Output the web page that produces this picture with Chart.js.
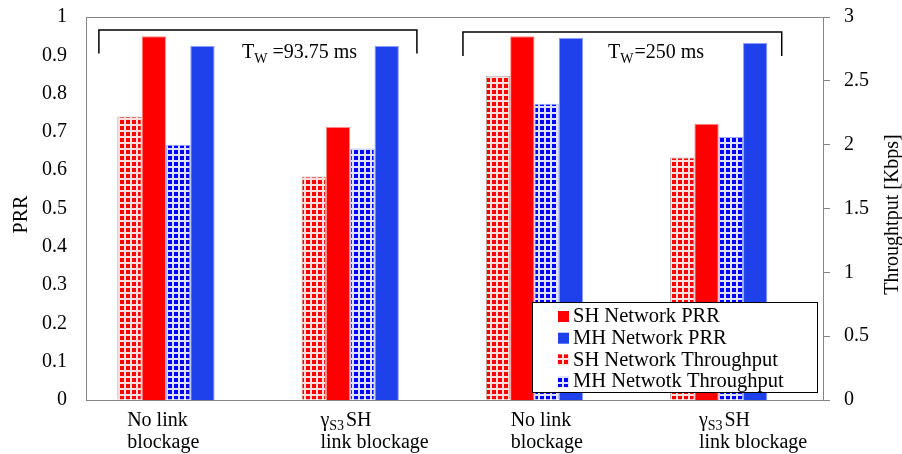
<!DOCTYPE html>
<html>
<head>
<meta charset="utf-8">
<script src="https://cdn.jsdelivr.net/npm/chart.js@4.4.1/dist/chart.umd.min.js"></script>
<style>
  html, body { margin: 0; padding: 0; background: #fff; }
  #wrap { width: 902px; height: 454px; position: relative; }
</style>
</head>
<body>
<div id="wrap"><canvas id="prrChart" width="902" height="454"></canvas></div>
<script>
// categories (first line / second line), "γ_S3" gets a subscript when drawn
const categories = [
  ['No link', 'blockage'],
  ['γS3 SH', 'link blockage'],
  ['No link', 'blockage'],
  ['γS3 SH', 'link blockage']
];

// PRR (left axis, 0..1)
const shPRR = [0.950, 0.713, 0.950, 0.721];
const mhPRR = [0.924, 0.924, 0.945, 0.932];
// Throughput in Kbps (right axis, 0..3)
const shThroughput = [2.22, 1.75, 2.54, 1.90];
const mhThroughput = [2.00, 1.97, 2.32, 2.06];

const prrTicks = [0, 0.1, 0.2, 0.3, 0.4, 0.5, 0.6, 0.7, 0.8, 0.9, 1];
const thrTicks = [0, 0.5, 1, 1.5, 2, 2.5, 3];

// T_W window brackets (in category units on x)
const windowLabels = ['=93.75 ms', '=250 ms'];
const windowFrom = [-0.43, 1.546];
const windowTo = [1.296, 3.276];

const FONT = "'Liberation Serif', 'Times New Roman', serif";
const RED = '#ff0000';
const BLUE = '#1f41eb';

function makePattern(bg, fg) {
  const c = document.createElement('canvas');
  c.width = 6; c.height = 6;
  const g = c.getContext('2d');
  g.fillStyle = bg;
  g.fillRect(0, 0, 6, 6);
  g.fillStyle = fg;
  g.fillRect(0, 0, 4, 4);
  return g.createPattern(c, 'repeat');
}
const redGrid = makePattern('#ffdede', '#ff0000');
const blueGrid = makePattern('#dfe2ff', '#0000ff');

// brackets + T_W labels, x-labels, axis titles, legend
const decorations = {
  id: 'decorations',
  afterDraw(chart) {
    const ctx = chart.ctx;
    const x = chart.scales.x;
    const y = chart.scales.y;
    const area = chart.chartArea;
    ctx.save();

    // plot frame
    ctx.strokeStyle = '#868686';
    ctx.lineWidth = 1;
    ctx.strokeRect(Math.round(area.left) + 0.5, Math.round(area.top) + 0.5,
      Math.round(area.right - area.left), Math.round(area.bottom - area.top));

    // brackets
    ctx.strokeStyle = '#000';
    ctx.lineWidth = 1.5;
    const tops = [0.966, 0.961];
    const bottoms = [0.905, 0.898];
    const textPos = [0.347, 2.333];
    windowLabels.forEach((lab, i) => {
      const x0 = x.getPixelForValue(windowFrom[i]);
      const x1 = x.getPixelForValue(windowTo[i]);
      const yt = y.getPixelForValue(tops[i]);
      const yb = y.getPixelForValue(bottoms[i]);
      ctx.beginPath();
      ctx.moveTo(x0, yb); ctx.lineTo(x0, yt); ctx.lineTo(x1, yt); ctx.lineTo(x1, yb);
      ctx.stroke();

      let tx = x.getPixelForValue(textPos[i]);
      const base = y.getPixelForValue(0.892);
      ctx.fillStyle = '#000';
      ctx.textAlign = 'left';
      ctx.textBaseline = 'alphabetic';
      ctx.font = '20px ' + FONT;
      ctx.fillText('T', tx, base);
      tx += ctx.measureText('T').width;
      ctx.font = '14px ' + FONT;
      ctx.fillText('W', tx, base + 5);
      tx += ctx.measureText('W').width + (i === 0 ? 5 : 1);
      ctx.font = '20px ' + FONT;
      ctx.fillText(lab, tx, base);
    });

    // x category labels
    const shift = [-51, -42, -36, -32];
    ctx.fillStyle = '#000';
    ctx.textAlign = 'left';
    categories.forEach((lines, i) => {
      let lx = x.getPixelForValue(i) + shift[i];
      const b1 = area.bottom + 26;
      const b2 = area.bottom + 48;
      if (lines[0].startsWith('γS3')) {
        ctx.font = '20px ' + FONT;
        ctx.fillText('γ', lx, b1);
        let cx = lx + ctx.measureText('γ').width;
        ctx.font = '14px ' + FONT;
        ctx.fillText('S3', cx, b1 + 4);
        cx += ctx.measureText('S3').width + 2;
        ctx.font = '20px ' + FONT;
        ctx.fillText(lines[0].slice(3).trim(), cx, b1);
      } else {
        ctx.font = '20px ' + FONT;
        ctx.fillText(lines[0], lx, b1);
      }
      ctx.font = '20px ' + FONT;
      ctx.fillText(lines[1], lx, b2);
    });

    // axis titles
    const midY = (area.top + area.bottom) / 2 + 6;
    ctx.font = '20px ' + FONT;
    ctx.textAlign = 'center';
    ctx.textBaseline = 'middle';
    ctx.save();
    ctx.translate(22, midY);
    ctx.rotate(-Math.PI / 2);
    ctx.fillText('PRR', 0, 0);
    ctx.restore();
    ctx.save();
    ctx.translate(893, midY);
    ctx.rotate(-Math.PI / 2);
    ctx.fillText('Throughtput [Kbps]', 0, 0);
    ctx.restore();

    // legend
    const lx = 532, ly = 302, lw = 285, lh = 90;
    ctx.fillStyle = '#fff';
    ctx.fillRect(lx, ly, lw, lh);
    ctx.strokeStyle = '#000';
    ctx.lineWidth = 1;
    ctx.strokeRect(lx + 0.5, ly + 0.5, lw, lh);
    const order = [1, 3, 0, 2];
    ctx.textAlign = 'left';
    ctx.textBaseline = 'middle';
    ctx.font = '20.5px ' + FONT;
    order.forEach((di, r) => {
      const ds = chart.data.datasets[di];
      const cy = ly + 14 + r * 21.7;
      ctx.fillStyle = ds.backgroundColor;
      ctx.fillRect(lx + 26, cy - 5, 11, 11);
      ctx.fillStyle = '#000';
      ctx.fillText(ds.label, lx + 41, cy + 1);
    });

    ctx.restore();
  }
};

function fixedWidth(w) {
  return function (s) {
    s.width = w;
    s.paddingTop = 0;
    s.paddingBottom = 0;
  };
}

new Chart(document.getElementById('prrChart'), {
  type: 'bar',
  data: {
    labels: categories.map(l => l.join(' ')),
    datasets: [
      { label: 'SH Network Throughput', data: shThroughput, yAxisID: 'y1',
        backgroundColor: redGrid, borderColor: '#a8a8a8', borderWidth: 1 },
      { label: 'SH Network PRR', data: shPRR, yAxisID: 'y',
        backgroundColor: RED, borderColor: '#ff8a8a', borderWidth: 1 },
      { label: 'MH Netwotk Throughput', data: mhThroughput, yAxisID: 'y1',
        backgroundColor: blueGrid, borderColor: '#9aa6ff', borderWidth: 1 },
      { label: 'MH Network PRR', data: mhPRR, yAxisID: 'y',
        backgroundColor: BLUE, borderColor: '#8c9cff', borderWidth: 1 },
      // empty slot so the group sits like the original
      { label: '', data: categories.map(() => null), yAxisID: 'y',
        backgroundColor: 'rgba(0,0,0,0)' }
    ]
  },
  options: {
    responsive: false,
    animation: false,
    devicePixelRatio: 1,
    layout: { padding: { top: 17, bottom: 54, left: 0, right: 0 } },
    datasets: { bar: { categoryPercentage: 0.66, barPercentage: 1 } },
    plugins: { legend: { display: false }, tooltip: { enabled: false } },
    scales: {
      x: {
        offset: true,
        grid: { display: false },
        border: { display: false },
        ticks: { display: false },
        afterFit(s) { s.height = 0; s.paddingLeft = 0; s.paddingRight = 0; }
      },
      y: {
        position: 'left',
        min: 0, max: 1,
        afterBuildTicks(s) { s.ticks = prrTicks.map(v => ({ value: v })); },
        grid: { display: false, drawTicks: false },
        border: { display: false },
        ticks: { padding: 19, color: '#000', font: { family: FONT, size: 20 },
          callback: v => String(v) },
        afterFit: fixedWidth(86)
      },
      y1: {
        position: 'right',
        min: 0, max: 3,
        afterBuildTicks(s) { s.ticks = thrTicks.map(v => ({ value: v })); },
        grid: { display: true, drawOnChartArea: false, drawTicks: true, tickLength: 7, color: '#868686' },
        border: { display: false },
        ticks: { padding: 14, color: '#000', font: { family: FONT, size: 20 },
          callback: v => String(v) },
        afterFit: fixedWidth(79)
      }
    }
  },
  plugins: [decorations]
});
</script>
</body>
</html>
